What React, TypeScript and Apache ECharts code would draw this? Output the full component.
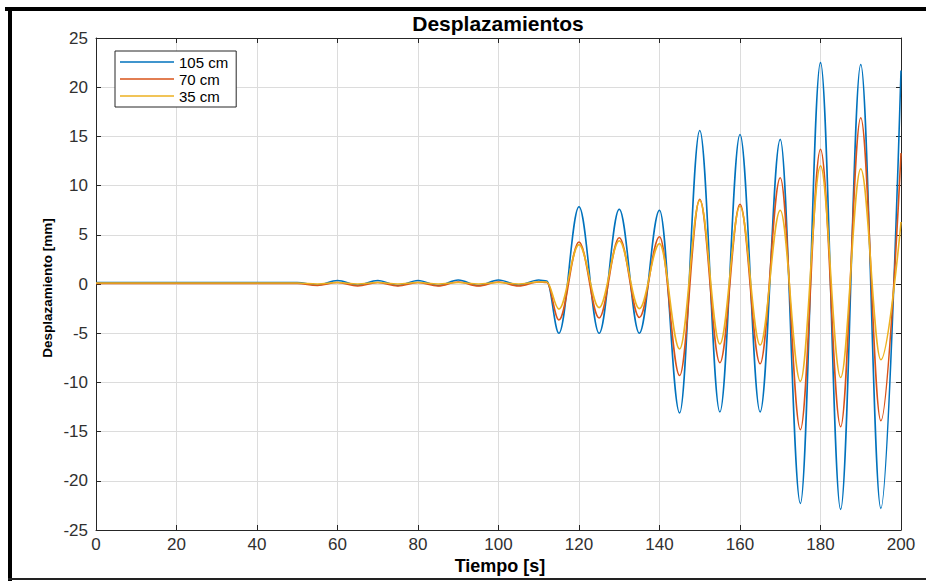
import React, { useEffect, useRef } from "react";
import * as echarts from "echarts";

const tiempo = [0, 10, 20, 30, 40, 50, 55, 60, 65, 70, 75, 80, 85, 90, 95, 100, 105, 110, 112, 115, 120, 125, 130, 135, 140, 145, 150, 155, 160, 165, 170, 175, 180, 185, 190, 195, 200];

const serie105 = [0.15, 0.15, 0.15, 0.15, 0.15, 0.15, -0.1, 0.35, -0.1, 0.35, -0.15, 0.35, -0.15, 0.4, -0.15, 0.4, -0.1, 0.4, 0.3, -5.0, 7.85, -5.0, 7.6, -5.0, 7.5, -13.1, 15.6, -13.0, 15.2, -13.0, 14.7, -22.3, 22.5, -22.9, 22.3, -22.8, 21.7];

const serie70 = [0.05, 0.05, 0.05, 0.05, 0.05, 0.05, -0.15, 0.15, -0.2, 0.15, -0.2, 0.15, -0.2, 0.2, -0.2, 0.2, -0.2, 0.2, 0.15, -3.66, 4.27, -3.45, 4.7, -3.4, 4.8, -9.3, 8.6, -8.0, 8.1, -8.1, 10.8, -14.8, 13.7, -14.5, 16.9, -13.9, 13.3];

const serie35 = [0.1, 0.1, 0.1, 0.1, 0.1, 0.1, 0.0, 0.15, 0.0, 0.15, 0.0, 0.15, 0.0, 0.15, 0.0, 0.15, 0.0, 0.2, 0.2, -2.55, 4.0, -2.4, 4.4, -2.5, 4.1, -6.6, 8.5, -6.1, 7.9, -6.2, 7.5, -9.9, 12.0, -9.5, 11.7, -7.7, 6.3];

const nombres = ["105 cm", "70 cm", "35 cm"];
const colores = ["#0072BD", "#D95319", "#EDB120"];
const titulo = "Desplazamientos";
const nombreX = "Tiempo [s]";
const nombreY = "Desplazamiento [mm]";

export default function App() {
  const ref = useRef<HTMLDivElement>(null);
  useEffect(() => {
    document.body.style.margin = "0";
    const chart = echarts.init(ref.current!, null, { renderer: "svg" });
    const font = "'Liberation Sans', Arial, sans-serif";
    const pairs = (v: number[]) => tiempo.map((t, i) => [t, v[i]]);
    const boxAxis = {
      axisLine: { show: true, onZero: false, lineStyle: { color: "#262626", width: 1 } },
      axisTick: { show: true, inside: true, length: 5, lineStyle: { color: "#262626", width: 1 } },
    };
    chart.setOption({
      animation: false,
      backgroundColor: "#ffffff",
      grid: { left: 96, right: 25, top: 38, bottom: 51, containLabel: false },
      xAxis: [
        {
          type: "value", min: 0, max: 200, interval: 20, position: "bottom",
          ...boxAxis,
          axisLabel: { color: "#303030", fontSize: 17, fontFamily: font, margin: 6 },
          splitLine: { show: true, lineStyle: { color: "#dcdcdc", width: 1 } },
        },
        {
          type: "value", min: 0, max: 200, interval: 20, position: "top",
          ...boxAxis,
          axisLabel: { show: false },
          splitLine: { show: false },
        },
      ],
      yAxis: [
        {
          type: "value", min: -25, max: 25, interval: 5, position: "left",
          ...boxAxis,
          axisLabel: { color: "#303030", fontSize: 17, fontFamily: font, margin: 8 },
          splitLine: { show: true, lineStyle: { color: "#dcdcdc", width: 1 } },
        },
        {
          type: "value", min: -25, max: 25, interval: 5, position: "right",
          ...boxAxis,
          axisLabel: { show: false },
          splitLine: { show: false },
        },
      ],
      legend: {
        data: nombres,
        orient: "vertical",
        left: 115,
        top: 51,
        backgroundColor: "#ffffff",
        borderColor: "#262626",
        borderWidth: 1,
        borderRadius: 0,
        padding: [3, 8, 3, 5],
        itemGap: 1,
        itemWidth: 54,
        itemHeight: 1.5,
        icon: "rect",
        textStyle: { color: "#000", fontSize: 15, fontFamily: font, lineHeight: 16 },
      },
      series: [serie105, serie70, serie35].map((v, i) => ({
        name: nombres[i],
        type: "line",
        xAxisIndex: 0,
        yAxisIndex: 0,
        data: pairs(v),
        symbol: "none",
        showSymbol: false,
        smooth: 0.36,
        smoothMonotone: "x",
        color: colores[i],
        lineStyle: { color: colores[i], width: 1.6 },
        z: 2 + i,
      })),
      graphic: [
        { type: "rect", shape: { x: 5, y: 7, width: 921, height: 4 }, style: { fill: "#000" }, z: 100 },
        { type: "rect", shape: { x: 8, y: 7, width: 4, height: 574 }, style: { fill: "#000" }, z: 100 },
        { type: "rect", shape: { x: 8, y: 578, width: 918, height: 2 }, style: { fill: "#222" }, z: 100 },
        {
          type: "text", x: 498, y: 23,
          style: { text: titulo, font: `bold 21px ${font}`, fill: "#000", align: "center", verticalAlign: "middle" },
        },
        {
          type: "text", x: 500, y: 566,
          style: { text: nombreX, font: `bold 18px ${font}`, fill: "#000", align: "center", verticalAlign: "middle" },
        },
        {
          type: "text", x: 47, y: 288, rotation: Math.PI / 2,
          style: { text: nombreY, font: `bold 13.5px ${font}`, fill: "#000", align: "center", verticalAlign: "middle" },
        },
      ],
    });
    return () => chart.dispose();
  }, []);
  return <div ref={ref} style={{ width: 926, height: 581 }} />;
}
